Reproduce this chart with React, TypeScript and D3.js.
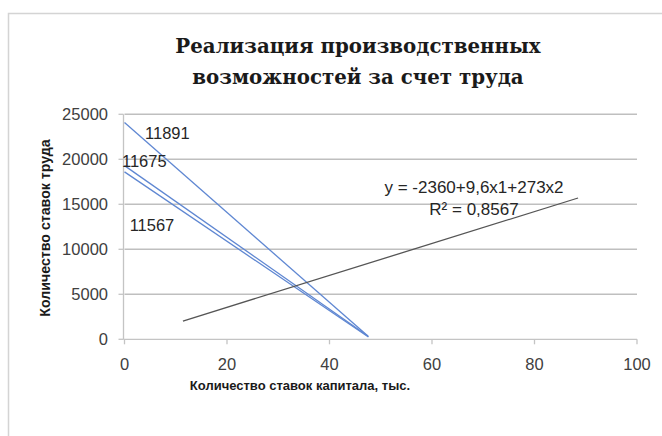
import React from "react";
import * as d3 from "d3";

const xTicks = [0, 20, 40, 60, 80, 100];
const yTicks = [0, 5000, 10000, 15000, 20000, 25000];

// Blue iso-lines: [x, y] endpoints
const isoNames = ["11891", "11675", "11567"];
const isoX = [[0, 47.6], [0, 47.4], [0, 47.6]];
const isoY = [[24100, 300], [19300, 400], [18600, 250]];
const isoLabelX = [4, -0.5, 1];
const isoLabelY = [22300, 19100, 12000];

// Trend line
const trendX = [11.4, 88.5];
const trendY = [2030, 15700];
const equation = "y = -2360+9,6x1+273x2";
const rSquared = "R² = 0,8567";

const title = ["Реализация производственных", "возможностей за счет труда"];
const xTitle = "Количество ставок капитала, тыс.";
const yTitle = "Количество ставок труда";

export default function App() {
  const W = 662, H = 436;
  const x = d3.scaleLinear().domain([0, 100]).range([124.5, 637]);
  const y = d3.scaleLinear().domain([0, 25000]).range([339.3, 114.3]);
  const line = d3.line<[number, number]>().x(d => x(d[0])).y(d => y(d[1]));
  const sans = "'Liberation Sans', Arial, sans-serif";
  const serif = "'DejaVu Serif', 'Liberation Serif', serif";

  return (
    <svg width={W} height={H} style={{ position: "fixed", left: 0, top: 0, background: "#fff" }}>
      <rect x={0} y={0} width={W} height={H} fill="#fff" />
      <rect x={8.5} y={13.5} width={W + 20} height={H + 20} fill="none" stroke="#d4d4d4" strokeWidth={1.5} />
      {title.map((t, i) => (
        <text key={i} x={358} y={53 + i * 31} textAnchor="middle" style={{ fontFamily: serif }} fontWeight="bold" fontSize={19.8} fill="#1a1a1a">{t}</text>
      ))}
      {/* gridlines */}
      {yTicks.filter(v => v > 0).map(v => (
        <line key={v} x1={x(0)} x2={x(100)} y1={y(v)} y2={y(v)} stroke="#bfbfbf" strokeWidth={1.4} />
      ))}
      {/* axes */}
      <line x1={x(0) - 1} x2={x(0) - 1} y1={y(25000)} y2={y(0)} stroke="#c4c4c4" strokeWidth={1.3} />
      <line x1={x(0) - 1} x2={x(100)} y1={y(0)} y2={y(0)} stroke="#c4c4c4" strokeWidth={1.3} />
      {yTicks.map(v => (
        <g key={v}>
          <line x1={x(0) - 6} x2={x(0) - 1} y1={y(v)} y2={y(v)} stroke="#c4c4c4" strokeWidth={1.3} />
          <text x={108} y={y(v)} dy="0.36em" textAnchor="end" fontFamily={sans} fontSize={16.5} fill="#404040">{v}</text>
        </g>
      ))}
      {xTicks.map(v => (
        <g key={v}>
          <line x1={x(v)} x2={x(v)} y1={y(0)} y2={y(0) + 5} stroke="#c4c4c4" strokeWidth={1.3} />
          <text x={x(v)} y={370} textAnchor="middle" fontFamily={sans} fontSize={16.5} fill="#404040">{v}</text>
        </g>
      ))}
      {/* iso lines */}
      {isoNames.map((n, i) => (
        <path key={n} d={line([[isoX[i][0], isoY[i][0]], [isoX[i][1], isoY[i][1]]]) || ""} stroke="#5f87d2" strokeWidth={1.3} fill="none" />
      ))}
      {isoNames.map((n, i) => (
        <text key={n + "l"} x={x(isoLabelX[i])} y={y(isoLabelY[i])} fontFamily={sans} fontSize={16.5} fill="#262626">{n}</text>
      ))}
      {/* trend */}
      <path d={line([[trendX[0], trendY[0]], [trendX[1], trendY[1]]]) || ""} stroke="#555" strokeWidth={1.3} fill="none" />
      <text x={474} y={193} textAnchor="middle" fontFamily={sans} fontSize={17} fill="#262626">{equation}</text>
      <text x={474} y={215} textAnchor="middle" fontFamily={sans} fontSize={17} fill="#262626">{rSquared}</text>
      {/* axis titles */}
      <text x={300} y={390} textAnchor="middle" fontFamily={sans} fontWeight="bold" fontSize={13} fill="#1a1a1a">{xTitle}</text>
      <text transform="translate(50,228) rotate(-90)" textAnchor="middle" fontFamily={sans} fontWeight="bold" fontSize={14.2} fill="#1a1a1a">{yTitle}</text>
    </svg>
  );
}
